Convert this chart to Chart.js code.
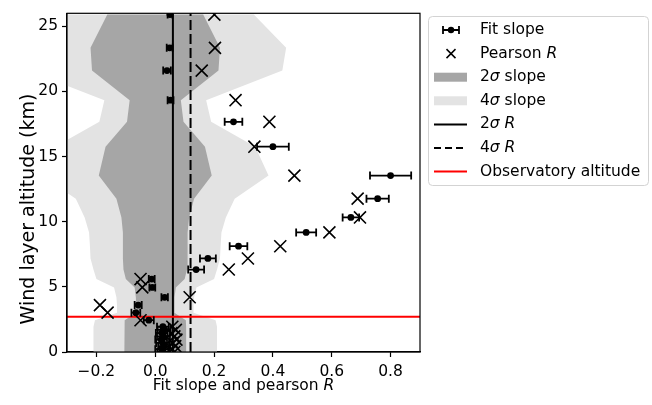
<!DOCTYPE html>
<html>
<head>
<meta charset="utf-8">
<script src="https://cdn.jsdelivr.net/npm/chart.js@4/dist/chart.umd.min.js"></script>
<style>
  html, body { margin: 0; padding: 0; background: #fff; }
  #wrap { width: 652px; height: 405px; }
</style>
</head>
<body>
<div id="wrap"><canvas id="chart" width="652" height="405"></canvas></div>
<script>
// wind layer altitudes (km), top to bottom
const layerAlt = [25.9, 23.35, 21.6, 19.33, 17.67, 15.76, 13.54, 11.77, 10.33, 9.18, 8.12, 7.18, 6.33,
                  5.6, 4.96, 4.2, 3.6, 3.02, 2.44, 1.94, 1.7, 1.45, 1.2, 0.95, 0.7, 0.45, 0.22, 0.0];

// fit slope and its error
const fitSlope = [0.05, 0.049, 0.04, 0.052, 0.266, 0.40, 0.80, 0.756, 0.665, 0.513, 0.283, 0.179, 0.139,
                  -0.012, -0.01, 0.032, -0.058, -0.066, -0.022, 0.026, 0.03, 0.022, 0.028, 0.02, 0.025, 0.03, 0.022, 0.027];
const fitErr = [0.008, 0.01, 0.013, 0.01, 0.03, 0.054, 0.07, 0.038, 0.028, 0.034, 0.03, 0.027, 0.027,
                0.01, 0.01, 0.011, 0.012, 0.015, 0.017, 0.02, 0.022, 0.02, 0.022, 0.02, 0.022, 0.02, 0.022, 0.02];

// pearson R
const pearsonR = [0.201, 0.203, 0.158, 0.273, 0.388, 0.337, 0.473, 0.688, 0.696, 0.592, 0.425, 0.315, 0.25,
                  -0.05, -0.044, 0.117, -0.188, -0.162, -0.05, 0.058, 0.07, 0.055, 0.065, 0.072, 0.06, 0.068, 0.058, 0.065];

// half widths of the slope bands (centred on 0)
const slope2Sigma = [0.163, 0.22, 0.215, 0.087, 0.096, 0.169, 0.192, 0.132, 0.115, 0.11, 0.11, 0.11, 0.108,
                     0.1, 0.07, 0.066, 0.065, 0.065, 0.104, 0.105, 0.105, 0.105, 0.105, 0.105, 0.105, 0.105, 0.105, 0.105];
const slope4Sigma = [0.335, 0.445, 0.432, 0.173, 0.19, 0.34, 0.385, 0.27, 0.24, 0.225, 0.222, 0.22, 0.21,
                     0.2, 0.14, 0.132, 0.13, 0.13, 0.205, 0.21, 0.21, 0.21, 0.21, 0.21, 0.21, 0.21, 0.21, 0.21];

// thresholds
const r2Sigma = 0.06;
const r4Sigma = 0.12;
const observatoryAlt = 2.7;

// axes
const xLimits = [-0.3, 0.9];
const yLimits = [0, 26];
const xTicks = [-0.2, 0.0, 0.2, 0.4, 0.6, 0.8];
const yTicks = [0, 5, 10, 15, 20, 25];

const FONT = 'DejaVu Sans';
const FSIZE = 15.5;
const DARK = '#a6a6a6';
const LIGHT = '#e3e3e3';

// band polygon: up the right side, down the left side
function bandShape(halfWidths) {
    const pts = [];
    for (let i = layerAlt.length - 1; i >= 0; i--) pts.push({x: halfWidths[i], y: layerAlt[i]});
    for (let i = 0; i < layerAlt.length; i++) pts.push({x: -halfWidths[i], y: layerAlt[i]});
    return pts;
}

// text with italic pieces
function richText(ctx, parts, x, y, align, size) {
    size = size || FSIZE;
    let total = 0;
    const widths = parts.map(p => {
        ctx.font = (p[1] ? 'oblique ' : '') + size + 'px "' + FONT + '"';
        const w = ctx.measureText(p[0]).width;
        total += w;
        return w;
    });
    let cx = align === 'center' ? x - total / 2 : x;
    ctx.textAlign = 'left';
    parts.forEach((p, i) => {
        ctx.font = (p[1] ? 'oblique ' : '') + size + 'px "' + FONT + '"';
        ctx.fillText(p[0], cx, y);
        cx += widths[i];
    });
}

const legendItems = [
    {icon: 'err', parts: [['Fit slope', false]]},
    {icon: 'cross', parts: [['Pearson ', false], ['R', true]]},
    {icon: 'dark', parts: [['2', false], ['σ', true], [' slope', false]]},
    {icon: 'light', parts: [['4', false], ['σ', true], [' slope', false]]},
    {icon: 'solid', parts: [['2', false], ['σ', true], [' ', false], ['R', true]]},
    {icon: 'dash', parts: [['4', false], ['σ', true], [' ', false], ['R', true]]},
    {icon: 'red', parts: [['Observatory altitude', false]]}
];

const extras = {
    id: 'extras',
    afterDatasetsDraw(chart) {
        const {ctx, chartArea: a, scales: {x, y}} = chart;
        ctx.save();
        ctx.beginPath();
        ctx.rect(a.left, a.top, a.right - a.left, a.bottom - a.top);
        ctx.clip();
        ctx.strokeStyle = '#000';
        ctx.lineWidth = 1.8;
        for (let i = 0; i < layerAlt.length; i++) {
            const py = y.getPixelForValue(layerAlt[i]);
            const x0 = x.getPixelForValue(fitSlope[i] - fitErr[i]);
            const x1 = x.getPixelForValue(fitSlope[i] + fitErr[i]);
            ctx.beginPath();
            ctx.moveTo(x0, py); ctx.lineTo(x1, py);
            ctx.moveTo(x0, py - 4); ctx.lineTo(x0, py + 4);
            ctx.moveTo(x1, py - 4); ctx.lineTo(x1, py + 4);
            ctx.stroke();
        }
        ctx.restore();
    },
    afterDraw(chart) {
        const {ctx, chartArea: a} = chart;
        ctx.save();
        // frame
        ctx.strokeStyle = '#000';
        ctx.lineWidth = 1.2;
        ctx.strokeRect(a.left, a.top, a.right - a.left, a.bottom - a.top);

        // axis titles
        ctx.fillStyle = '#000';
        ctx.textBaseline = 'alphabetic';
        richText(ctx, [['Fit slope and pearson ', false], ['R', true]], (a.left + a.right) / 2, 390, 'center');
        ctx.save();
        ctx.translate(34, 209);
        ctx.rotate(-Math.PI / 2);
        richText(ctx, [['Wind layer altitude (km)', false]], 0, 0, 'center', 19);
        ctx.restore();

        // legend
        const lx = 428, ly = 16, lw = 220, lh = 169;
        ctx.fillStyle = '#fff';
        ctx.strokeStyle = '#d3d3d3';
        ctx.lineWidth = 1;
        ctx.beginPath();
        ctx.roundRect(lx + 0.5, ly + 0.5, lw, lh, 4);
        ctx.fill();
        ctx.stroke();

        ctx.textBaseline = 'middle';
        legendItems.forEach((item, i) => {
            const cy = 30 + i * 23.6;
            const ix = 451;
            ctx.save();
            ctx.strokeStyle = '#000';
            ctx.fillStyle = '#000';
            if (item.icon === 'err') {
                ctx.lineWidth = 1.8;
                ctx.beginPath();
                ctx.moveTo(443, cy); ctx.lineTo(459, cy);
                ctx.moveTo(443, cy - 4); ctx.lineTo(443, cy + 4);
                ctx.moveTo(459, cy - 4); ctx.lineTo(459, cy + 4);
                ctx.stroke();
                ctx.beginPath();
                ctx.arc(ix, cy, 3.2, 0, Math.PI * 2);
                ctx.fill();
            } else if (item.icon === 'cross') {
                ctx.lineWidth = 1.5;
                ctx.beginPath();
                ctx.moveTo(ix - 4.5, cy - 4.5); ctx.lineTo(ix + 4.5, cy + 4.5);
                ctx.moveTo(ix - 4.5, cy + 4.5); ctx.lineTo(ix + 4.5, cy - 4.5);
                ctx.stroke();
            } else if (item.icon === 'dark' || item.icon === 'light') {
                ctx.fillStyle = item.icon === 'dark' ? DARK : LIGHT;
                ctx.fillRect(434, cy - 4.5, 33, 9);
            } else {
                ctx.lineWidth = 2;
                if (item.icon === 'red') ctx.strokeStyle = '#ff0000';
                if (item.icon === 'dash') ctx.setLineDash([7, 4]);
                ctx.beginPath();
                ctx.moveTo(434, cy); ctx.lineTo(467, cy);
                ctx.stroke();
            }
            ctx.restore();
            ctx.fillStyle = '#000';
            richText(ctx, item.parts, 480, cy, 'left');
        });
        ctx.restore();
    }
};

const tickFmt = v => (v < 0 ? '\u2212' : '') + Math.abs(v).toFixed(1);

new Chart(document.getElementById('chart'), {
    type: 'scatter',
    data: {
        datasets: [
            {
                label: 'Fit slope',
                data: layerAlt.map((h, i) => ({x: fitSlope[i], y: h})),
                pointRadius: 3.4,
                pointBackgroundColor: '#000',
                pointBorderWidth: 0,
                order: 0
            },
            {
                label: 'Pearson R',
                data: layerAlt.map((h, i) => ({x: pearsonR[i], y: h})),
                pointStyle: 'crossRot',
                pointRadius: 8.5,
                pointBorderColor: '#000',
                pointBorderWidth: 1.6,
                order: 1
            },
            {
                label: 'Observatory altitude',
                type: 'line',
                data: [{x: xLimits[0], y: observatoryAlt}, {x: xLimits[1], y: observatoryAlt}],
                borderColor: '#ff0000',
                borderWidth: 2,
                pointRadius: 0,
                showLine: true,
                order: 2
            },
            {
                label: '2σ R',
                type: 'line',
                data: [{x: r2Sigma, y: yLimits[0]}, {x: r2Sigma, y: yLimits[1]}],
                borderColor: '#000',
                borderWidth: 2,
                pointRadius: 0,
                showLine: true,
                order: 3
            },
            {
                label: '4σ R',
                type: 'line',
                data: [{x: r4Sigma, y: yLimits[0]}, {x: r4Sigma, y: yLimits[1]}],
                borderColor: '#000',
                borderWidth: 2,
                borderDash: [10, 4],
                pointRadius: 0,
                showLine: true,
                order: 3
            },
            {
                label: '2σ slope',
                type: 'line',
                data: bandShape(slope2Sigma),
                backgroundColor: DARK,
                borderColor: 'rgba(0,0,0,0)',
                borderWidth: 0,
                pointRadius: 0,
                showLine: true,
                tension: 0,
                fill: 'shape',
                order: 5
            },
            {
                label: '4σ slope',
                type: 'line',
                data: bandShape(slope4Sigma),
                backgroundColor: LIGHT,
                borderColor: 'rgba(0,0,0,0)',
                borderWidth: 0,
                pointRadius: 0,
                showLine: true,
                tension: 0,
                fill: 'shape',
                order: 6
            }
        ]
    },
    options: {
        responsive: false,
        animation: false,
        devicePixelRatio: 1,
        layout: { padding: { left: 0, right: 232, top: 8, bottom: 0 } },
        plugins: {
            legend: { display: false },
            tooltip: { enabled: false }
        },
        scales: {
            x: {
                type: 'linear',
                min: xLimits[0],
                max: xLimits[1],
                grid: { display: true, drawOnChartArea: false, drawTicks: true, tickLength: 5, color: '#000', tickWidth: 1.2 },
                border: { display: true, color: '#000', width: 1.2 },
                ticks: { color: '#000', font: { family: FONT, size: FSIZE }, padding: 5.5, callback: tickFmt },
                afterBuildTicks: s => { s.ticks = xTicks.map(v => ({value: v})); },
                afterFit: s => { s.height = 53; }
            },
            y: {
                type: 'linear',
                min: yLimits[0],
                max: yLimits[1],
                grid: { display: true, drawOnChartArea: false, drawTicks: true, tickLength: 5, color: '#000', tickWidth: 1.2 },
                border: { display: true, color: '#000', width: 1.2 },
                ticks: { color: '#000', font: { family: FONT, size: FSIZE }, padding: 4 },
                afterBuildTicks: s => { s.ticks = yTicks.map(v => ({value: v})); },
                afterFit: s => { s.width = 67; }
            }
        }
    },
    plugins: [extras]
});
</script>
</body>
</html>
